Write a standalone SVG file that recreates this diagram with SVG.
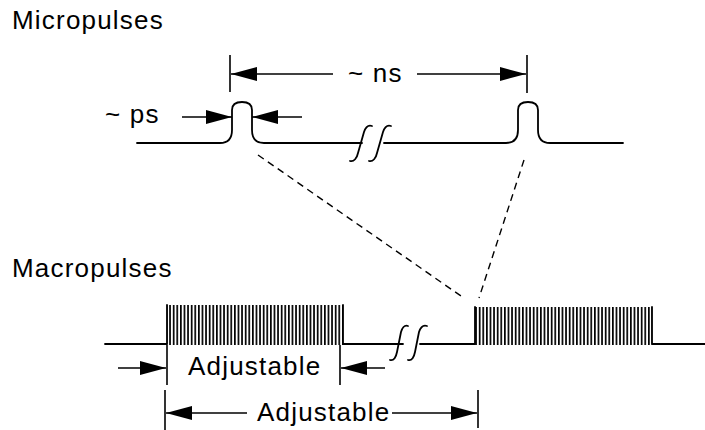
<svg xmlns="http://www.w3.org/2000/svg" width="705" height="430" viewBox="0 0 705 430">
<defs>
<style>
.t{font-family:"Liberation Sans",Arial,sans-serif;font-size:26px;letter-spacing:1.2px;fill:#000}
.ln{fill:none;stroke:#000;stroke-width:1.8;stroke-linecap:round;stroke-linejoin:round}
.dim{fill:none;stroke:#000;stroke-width:1.6}
.dash{fill:none;stroke:#000;stroke-width:1.4;stroke-dasharray:7,5}
</style>
<marker id="ah" markerUnits="userSpaceOnUse" markerWidth="28" markerHeight="16" refX="26" refY="7" orient="auto">
<path d="M0,0 L26,7 L0,14 Z" fill="#000"/>
</marker>
<pattern id="stripes" patternUnits="userSpaceOnUse" x="0" y="0" width="3.6" height="60">
<rect x="0" y="0" width="1.7" height="60" fill="#000"/>
</pattern>
</defs>
<rect width="705" height="430" fill="#fff"/>

<g id="micropulses">
<text class="t" x="12" y="29">Micropulses</text>
<path class="ln" d="M137 143 H220 C229 143 232 138 232 130 L232 110 C232 104 237 102 242 102 C247 102 252 104 252 110 L252 130 C252 138 255 143 264 143 H362"/>
<path class="ln" d="M384 143 H506 C515 143 518 138 518 130 L518 110 C518 104 523 102 528 102 C533 102 538 104 538 110 L538 130 C538 138 541 143 550 143 H623"/>
<path class="ln" d="M350 161 C354 162 357 158 358 153 L364 132 C366 126 369 125 372 126"/>
<path class="ln" d="M369 161 C373 162 376 158 377 153 L383 132 C385 126 388 125 391 126"/>
</g>

<g id="macropulses">
<text class="t" x="12" y="277">Macropulses</text>
<path class="ln" d="M105 344 H167 V305"/>
<rect x="167" y="305" width="176" height="40" fill="url(#stripes)"/>
<path class="ln" d="M343 305 V344 H403"/>
<path class="ln" d="M420 344 H475 V307"/>
<rect x="475" y="307" width="177" height="38" fill="url(#stripes)"/>
<path class="ln" d="M652 307 V344 H705"/>
<path class="ln" d="M390 360 C394 361 396 357 397 352 L401 332 C403 326 405 325 408 326"/>
<path class="ln" d="M408 360 C412 361 414 357 415 352 L419 332 C421 326 424 325 427 326"/>
</g>

<g id="connectors">
<line class="dash" x1="258" y1="155" x2="461" y2="296"/>
<line class="dash" x1="524" y1="160" x2="479" y2="298"/>
<line class="dim" x1="230" y1="55" x2="230" y2="92"/>
<line class="dim" x1="527" y1="55" x2="527" y2="93"/>
<line class="dim" x1="333" y1="74" x2="231" y2="74" marker-end="url(#ah)"/>
<line class="dim" x1="417" y1="74" x2="526" y2="74" marker-end="url(#ah)"/>
<text class="t" x="348" y="82">~ ns</text>
<text class="t" x="105" y="123">~ ps</text>
<line class="dim" x1="182" y1="117" x2="232" y2="117" marker-end="url(#ah)"/>
<line class="dim" x1="302" y1="117" x2="252" y2="117" marker-end="url(#ah)"/>
<line class="dim" x1="167" y1="345" x2="167" y2="385"/>
<line class="dim" x1="340" y1="345" x2="340" y2="385"/>
<line class="dim" x1="118" y1="368" x2="166" y2="368" marker-end="url(#ah)"/>
<line class="dim" x1="385" y1="368" x2="341" y2="368" marker-end="url(#ah)"/>
<text class="t" x="188" y="375">Adjustable</text>
<line class="dim" x1="165" y1="390" x2="165" y2="430"/>
<line class="dim" x1="478" y1="390" x2="478" y2="428"/>
<line class="dim" x1="247" y1="413" x2="166" y2="413" marker-end="url(#ah)"/>
<line class="dim" x1="392" y1="413" x2="477" y2="413" marker-end="url(#ah)"/>
<text class="t" x="257" y="421">Adjustable</text>
</g>
</svg>
